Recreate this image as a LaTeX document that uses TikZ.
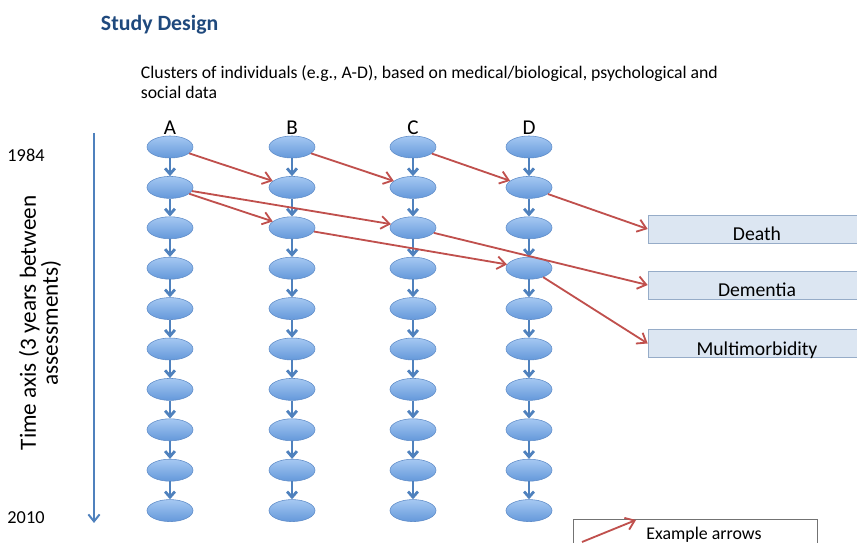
\documentclass[tikz,border=0pt]{standalone}
\usepackage{fontspec}
\setmainfont{Carlito}
\usepackage{xcolor}
\usetikzlibrary{shapes.geometric}
\usetikzlibrary{arrows.meta}
\definecolor{titleblue}{RGB}{31,73,125}
\definecolor{axisblue}{RGB}{79,129,189}
\definecolor{celltop}{RGB}{165,200,242}
\definecolor{cellbot}{RGB}{100,152,218}
\definecolor{cellline}{RGB}{95,140,200}
\definecolor{arrowred}{RGB}{192,80,77}
\definecolor{boxfill}{RGB}{220,230,242}
\definecolor{boxline}{RGB}{150,172,200}
\tikzset{
    cell/.style = {ellipse, draw=cellline, top color=celltop, bottom color=cellbot, minimum width=1.15cm, minimum height=0.55cm, inner sep=0pt},
    outcome/.style = {rectangle, draw=boxline, fill=boxfill, minimum width=5.45cm, minimum height=0.7cm, inner ysep=0pt, text height=17pt, text depth=0pt, font=\fontsize{14}{16}\selectfont},
    head/.style = {anchor=base, font=\fontsize{15}{17}\selectfont},
    year/.style = {font=\fontsize{13}{15}\selectfont},
}

\begin{document}
\begin{tikzpicture}[x=0.025cm, y=-0.025cm]
\tikzset{
    down/.style = {-{Straight Barb[length=4pt,width=7pt]}, line width=2pt, axisblue},
    redarrow/.style = {-{Straight Barb[length=6pt,width=9pt]}, line width=1.3pt, arrowred},
    axis/.style = {-{Straight Barb[length=5pt,width=8pt]}, line width=1.4pt, axisblue},
}
\useasboundingbox (0,0) rectangle (857,543);
\node[anchor=west, text=titleblue, font=\fontsize{15.5}{18}\bfseries\selectfont] (title) at (96,25) {Study Design};
\node[anchor=north west, align=left, font=\fontsize{12.6}{14}\selectfont] (sub) at (136,61)
    {Clusters of individuals (e.g., A-D), based on medical/biological, psychological and\\social data};
%
\node[year] (y1984) at (26,155) {1984};
\node[year] (y2010) at (26,518) {2010};
\node[rotate=90, align=center, font=\fontsize{16.5}{13}\selectfont] (timelabel) at (40,323)
    {Time axis (3 years between\\assessments)};
\coordinate (tstart) at (94,133);
\coordinate (tend) at (94,523);
\draw[axis] (tstart) -- (tend);
%
\foreach \c/\x/\l in {a/170/A, b/292/B, c/413/C, d/529/D} {
    \node[head] (h\c) at (\x,135) {\l};
    \foreach \i in {1,...,10}
        \node[cell] (\c\i) at (\x,{147+40.4*(\i-1)}) {};
    \foreach \i [count=\j from 2] in {1,...,9}
        \draw[down] (\c\i) -- (\c\j);
}
%
\node[outcome] (death) at (757,229) {Death};
\node[outcome] (dementia) at (757,285) {Dementia};
\node[outcome] (multi) at (757,343.5) {Multimorbidity};
%
\draw[redarrow] (a1) -- (b2);
\draw[redarrow] (b1) -- (c2);
\draw[redarrow] (c1) -- (d2);
\draw[redarrow] (a2) -- (b3);
\draw[redarrow] (a2) -- (c3);
\draw[redarrow] (b3) -- (d4);
\draw[redarrow] (d2) -- (death.west);
\draw[redarrow] (c3) -- (dementia.west);
\draw[redarrow] (d4) -- (multi.west);
%
\node[draw=black!55, fill=white, minimum width=6.1cm, minimum height=0.8cm, font=\fontsize{12.7}{15}\selectfont] (legend) at (695,535) {\hspace{0.45cm}Example arrows};
\coordinate (ex1) at (582,542);
\coordinate (ex2) at (636,520);
\draw[redarrow] (ex1) -- (ex2);
\end{tikzpicture}
\end{document}
